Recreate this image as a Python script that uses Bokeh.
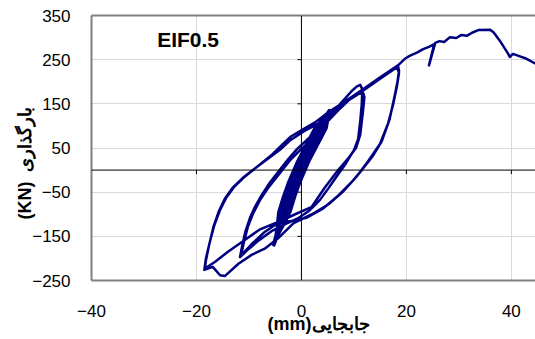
from bokeh.plotting import figure
from bokeh.models import Range1d, LinearAxis, FixedTicker, Span, Label
from bokeh.embed import file_html
from bokeh.resources import INLINE
import numpy as np

# ---- tick values ----
x_ticks = [-40, -20, 0, 20, 40]
y_ticks = [-250, -150, -50, 50, 150, 250, 350]

# ---- small cycles (thick band, about +/-5 mm) ----
band_x = [-0.2, 0.7, 1.8, 2.9, 4.0, 4.65, 5.2,
          4.3, 3.3, 2.2, 1.1, 0.0, -0.9, -1.8, -2.7, -3.6, -4.3, -5.3,
          -3.8, -2.5, -1.6, -0.7, 0.2, 1.1, 2.2, 3.3, 4.4, 4.9, 5.3,
          4.1, 2.9, 1.8, 0.7, -0.4, -1.3, -2.2, -3.1, -4.0, -4.5, -5.4,
          -3.6, -2.1, -1.2, -0.3, 0.6, 1.5, 2.6, 3.7, 4.8, 5.1, 5.3,
          3.9, 2.5, 1.4, 0.3, -0.8, -1.7, -2.6, -3.5, -4.4, -4.7, -5.2,
          -3.9, -2.7, -1.8, -0.9, 0.0, 0.9, 2.0, 3.1, 4.2, 4.8, 5.2,
          4.2, 3.1, 2.0, 0.9, -0.2, -1.1, -2.0, -2.9, -3.8, -4.4, -5.4,
          -3.7, -2.3, -1.4, -0.5, 0.4, 1.3, 2.4, 3.5, 4.6, 5.0, 5.3,
          4.0, 2.7, 1.6, 0.5, -0.6, -1.5, -2.4, -3.3, -4.2, -4.6, -5.3,
          -4.0, -3.1, -2.2, -1.3, -0.4, 0.5, 1.6, 2.7, 3.8, 4.6, 5.1,
          4.4, 3.5, 2.4, 1.3, 0.2, -0.7, -1.6, -2.5, -3.4, -4.2, -5.3]
band_y = [-5, 20, 45, 70, 95, 115, 134,
          115, 95, 70, 45, 20, -5, -30, -60, -95, -130, -170,
          -130, -95, -60, -30, -5, 20, 45, 70, 95, 115, 135,
          115, 95, 70, 45, 20, -5, -30, -60, -95, -130, -168,
          -130, -95, -60, -30, -5, 20, 45, 70, 95, 115, 133,
          115, 95, 70, 45, 20, -5, -30, -60, -95, -130, -171,
          -130, -95, -60, -30, -5, 20, 45, 70, 95, 115, 134,
          115, 95, 70, 45, 20, -5, -30, -60, -95, -130, -169,
          -130, -95, -60, -30, -5, 20, 45, 70, 95, 115, 136,
          115, 95, 70, 45, 20, -5, -30, -60, -95, -130, -170,
          -130, -95, -60, -30, -5, 20, 45, 70, 95, 115, 133,
          115, 95, 70, 45, 20, -5, -30, -60, -95, -130, -168]

# ---- medium cycles (about +/-12 mm) ----
mid_x = [-4.6, -3.7, -2.8, -1.8, -0.8, 0.3, 1.5, 2.8, 4.0, 5.0, 6.5, 8.0, 9.5, 10.5, 11.2,
         11.6, 11.5, 11.2, 10.8, 10.0, 8.3, 6.5, 5.1, 3.5, 1.5, -0.5, -3.0, -5.5, -8.0, -10.0, -11.7,
         -11.3, -10.7, -9.8, -8.8, -7.5, -6.0, -4.3, -2.5, -0.8, 1.0, 3.0, 5.0, 7.0, 9.0, 10.8, 11.8,
         12.0, 11.7, 11.2, 10.4, 9.0, 7.0, 4.5, 1.9, -1.2, -4.0, -7.0, -9.5, -11.5]
mid_y = [-150, -115, -78, -42, -12, 12, 38, 66, 92, 115, 138, 158, 178, 189, 193,
         183, 150, 110, 70, 45, 12, -18, -42, -68, -92, -108, -122, -137, -158, -178, -197,
         -172, -140, -108, -82, -55, -28, -2, 25, 48, 68, 88, 110, 135, 158, 172, 174,
         165, 130, 80, 50, 28, 0, -39, -84, -100, -116, -140, -168, -193]

# ---- large cycles (about +/-19 mm) ----
big_x = [-11.0, -10.2, -9.2, -7.9, -6.2, -4.2, -2.2, 0.0, 2.0, 4.0, 5.3, 8.0, 12.0, 15.0, 18.4,
         18.6, 18.3, 17.8, 16.8, 15.3, 13.5, 11.5, 9.5, 7.0, 4.0, 1.0, -2.0, -5.0, -8.0, -11.0, -14.0, -16.5, -18.4,
         -18.2, -17.6, -16.8, -15.8, -14.6, -13.1, -11.1, -8.5, -6.0, -4.1, -2.2, 0.5, 3.0, 5.0, 8.0, 12.0, 15.0, 18.2,
         18.6, 18.2, 17.5, 16.5, 15.0, 12.7, 10.5, 8.0, 5.1, 2.0, -1.5, -4.5, -7.0, -9.5, -12.0, -14.6, -15.5, -16.9, -18.5,
         -18.2, -17.5, -16.6, -15.5, -14.3, -12.8, -10.8, -8.2, -5.5, -3.6, -2.0, 0.3, 2.6, 5.0, 8.0, 12.0, 15.0, 18.4]
big_y = [-165, -128, -98, -68, -38, -8, 22, 48, 70, 95, 125, 150, 182, 207, 236,
         225, 200, 170, 115, 65, 30, 0, -28, -58, -88, -108, -115, -120, -135, -160, -185, -208, -223,
         -205, -170, -130, -95, -65, -40, -17, 7, 29, 46, 67, 88, 104, 122, 150, 182, 207, 233,
         220, 190, 150, 105, 60, 20, -15, -48, -78, -100, -120, -155, -178, -192, -212, -240, -238, -219, -226,
         -200, -165, -125, -90, -62, -38, -15, 10, 36, 58, 76, 92, 108, 130, 153, 185, 210, 237]

# ---- final monotonic push ----
push_x = [19.7, 20.7, 22.0, 23.2, 24.3, 25.3, 24.3, 25.5, 26.3, 27.2, 28.3, 29.5, 30.5, 31.5,
          32.5, 33.7, 35.9, 36.6, 37.8, 39.4, 39.7, 40.3, 41.5, 42.9, 44.6]
push_y = [252, 259, 266, 274, 279, 285, 237, 288, 292, 290, 301, 299, 306, 304,
          311, 317, 318, 312, 293, 263, 256, 263, 258, 252, 241]

curve_x = band_x + mid_x + big_x + push_x
curve_y = band_y + mid_y + big_y + push_y

FONT = "Liberation Sans"
FRAME = "#808080"
NB = "\u00a0"

p = figure(width=535, height=339, output_backend="svg", toolbar_location=None,
           x_range=Range1d(-40, 44.6), y_range=Range1d(-250, 350),
           min_border_left=91, min_border_top=15, min_border_bottom=59, min_border_right=0,
           x_axis_label=NB * 2 + "(mm)جابجایی",
           y_axis_label="(KN)" + NB * 2 + "بارگذاری" + NB * 6)
p.outline_line_color = None
p.background_fill_color = "white"
p.border_fill_color = "white"

# grids
p.xgrid.ticker = FixedTicker(ticks=x_ticks)
p.ygrid.ticker = FixedTicker(ticks=y_ticks)
p.grid.grid_line_color = "#d9d9d9"
p.grid.grid_line_width = 1

# axes
for ax in (p.xaxis[0], p.yaxis[0]):
    ax.axis_line_color = FRAME
    ax.axis_line_width = 2
    ax.major_tick_out = 0
    ax.major_tick_in = 0
    ax.minor_tick_out = 0
    ax.minor_tick_in = 0
    ax.major_label_text_font = FONT
    ax.major_label_text_font_size = "17px"
    ax.major_label_text_color = "black"
    ax.axis_label_text_font = FONT
    ax.axis_label_text_font_style = "bold"
    ax.axis_label_text_font_size = "18px"
    ax.axis_label_text_color = "black"

p.xaxis.ticker = FixedTicker(ticks=x_ticks)
p.yaxis.ticker = FixedTicker(ticks=y_ticks)
p.xaxis.major_label_standoff = 24
p.xaxis.axis_label_standoff = -6
p.yaxis.major_label_standoff = 21
p.yaxis.axis_label_standoff = -6

top_axis = LinearAxis(ticker=FixedTicker(ticks=[]), axis_line_color=FRAME, axis_line_width=2,
                      major_tick_out=0, major_tick_in=0, minor_tick_out=0, minor_tick_in=0,
                      major_label_text_font_size="0px", major_label_standoff=0)
p.add_layout(top_axis, "above")

# zero lines
p.add_layout(Span(location=0, dimension="height", line_color="black", line_width=1))
p.add_layout(Span(location=0, dimension="width", line_color="black", line_width=1))

# small tick marks on the zero lines
p.ray(x=[0] * len(y_ticks), y=y_ticks, length=4, length_units="screen",
      angle=np.pi, line_color="black", line_width=1)
p.ray(x=x_ticks, y=[0] * len(x_ticks), length=4, length_units="screen",
      angle=-np.pi / 2, line_color="black", line_width=1)

# hysteresis curve
p.line(curve_x, curve_y, line_color="#000080", line_width=2.5, line_join="round")

p.add_layout(Label(x=-21.6, y=295, text="EIF0.5", text_font=FONT, text_font_style="bold",
                   text_font_size="21px", text_align="center", text_baseline="middle",
                   text_color="black"))

open("out.html", "w").write(file_html(p, INLINE))
